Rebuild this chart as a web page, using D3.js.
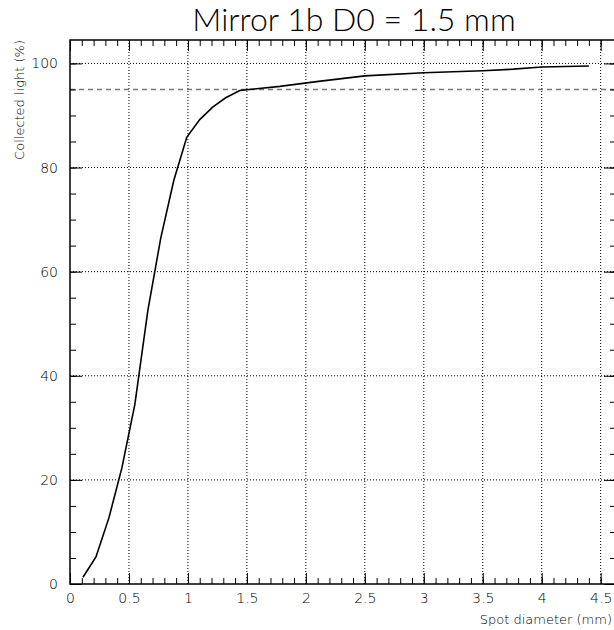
<!DOCTYPE html>
<html>
<head>
<meta charset="utf-8">
<script src="https://cdn.jsdelivr.net/npm/d3@7"></script>
<style>
  body { margin: 0; background: #fff; }
  text { font-family: "DejaVu Sans", sans-serif; fill: #000; }
</style>
</head>
<body>
<svg class="plot" width="614" height="630"></svg>
<script>
// spot diameter (mm) and collected light (%)
var spotDiameter = [0.11, 0.22, 0.33, 0.44, 0.55, 0.66, 0.77, 0.88, 0.99, 1.10, 1.21, 1.32, 1.44,
                    1.78, 2.09, 2.50, 3.00, 3.50, 3.76, 4.00, 4.40];
var collected = [1.3, 5.2, 12.7, 22.3, 34.5, 52.5, 66.5, 77.5, 85.8, 89.2, 91.6, 93.4, 94.8,
                 95.6, 96.5, 97.6, 98.2, 98.6, 98.9, 99.3, 99.5];
var xTicks = [0, 0.5, 1, 1.5, 2, 2.5, 3, 3.5, 4, 4.5];
var yTicks = [0, 20, 40, 60, 80, 100];
var refLevel = 95;

var svg = d3.select(".plot");
var frame = {left: 70, right: 616, top: 40, bottom: 584};

var x = d3.scaleLinear().domain([0, 4.63]).range([frame.left, frame.right]),
    y = d3.scaleLinear().domain([0, 104.5]).range([frame.bottom, frame.top]);

var data = spotDiameter.map(function(d, i) { return {x: d, y: collected[i]}; });

// grid
svg.append("g").selectAll("line")
    .data(xTicks.filter(function(d) { return d > 0; }))
    .enter().append("line")
    .attr("x1", function(d) { return x(d); })
    .attr("x2", function(d) { return x(d); })
    .attr("y1", frame.top).attr("y2", frame.bottom)
    .attr("stroke", "#000").attr("stroke-width", 1)
    .style("stroke-dasharray", "1,2");

svg.append("g").selectAll("line")
    .data(yTicks.filter(function(d) { return d > 0; }))
    .enter().append("line")
    .attr("x1", frame.left).attr("x2", frame.right)
    .attr("y1", function(d) { return y(d); })
    .attr("y2", function(d) { return y(d); })
    .attr("stroke", "#000").attr("stroke-width", 1)
    .style("stroke-dasharray", "1,2");

// 95% reference
svg.append("line")
    .attr("x1", frame.left).attr("x2", frame.right)
    .attr("y1", y(refLevel)).attr("y2", y(refLevel))
    .attr("stroke", "#777").attr("stroke-width", 1.6)
    .style("stroke-dasharray", "5,4");

// axes, ticks pointing inward
var minorX = d3.range(0, 46).map(function(i) { return i / 10; });
var minorY = d3.range(0, 21).map(function(i) { return i * 5; });

function styleAxis(g) {
  g.select(".domain").remove();
  g.selectAll("line").attr("stroke", "#000");
}

svg.append("g")
    .attr("transform", "translate(0," + frame.bottom + ")")
    .call(d3.axisBottom(x).tickValues(minorX).tickSize(-6).tickFormat(""))
    .call(styleAxis);
svg.append("g")
    .attr("transform", "translate(0," + frame.bottom + ")")
    .call(d3.axisBottom(x).tickValues(xTicks).tickSize(-11).tickPadding(9)
          .tickFormat(function(d) { return d; }))
    .call(styleAxis)
    .selectAll("text").style("font-size", "14px").style("font-weight", 300);

svg.append("g")
    .attr("transform", "translate(0," + frame.top + ")")
    .call(d3.axisTop(x).tickValues(minorX).tickSize(-6).tickFormat(""))
    .call(styleAxis);
svg.append("g")
    .attr("transform", "translate(0," + frame.top + ")")
    .call(d3.axisTop(x).tickValues(xTicks).tickSize(-11).tickFormat(""))
    .call(styleAxis);

svg.append("g")
    .attr("transform", "translate(" + frame.left + ",0)")
    .call(d3.axisLeft(y).tickValues(minorY).tickSize(-6).tickFormat(""))
    .call(styleAxis);
svg.append("g")
    .attr("transform", "translate(" + frame.left + ",0)")
    .call(d3.axisLeft(y).tickValues(yTicks).tickSize(-12).tickPadding(12))
    .call(styleAxis)
    .selectAll("text").style("font-size", "14px").style("font-weight", 300);

svg.append("g")
    .attr("transform", "translate(" + frame.right + ",0)")
    .call(d3.axisRight(y).tickValues(minorY).tickSize(-6).tickFormat(""))
    .call(styleAxis);
svg.append("g")
    .attr("transform", "translate(" + frame.right + ",0)")
    .call(d3.axisRight(y).tickValues(yTicks).tickSize(-12).tickFormat(""))
    .call(styleAxis);

// frame
svg.append("rect")
    .attr("x", frame.left).attr("y", frame.top)
    .attr("width", frame.right - frame.left).attr("height", frame.bottom - frame.top)
    .attr("fill", "none").attr("stroke", "#000").attr("stroke-width", 1.5);

// curve
svg.append("path")
    .datum(data)
    .attr("fill", "none")
    .attr("stroke", "#000")
    .attr("stroke-width", 1.6)
    .attr("d", d3.line().x(function(d) { return x(d.x); }).y(function(d) { return y(d.y); }));

// titles
svg.append("text")
    .attr("x", 354).attr("y", 31)
    .style("font-family", "Lato, 'DejaVu Sans', sans-serif")
    .style("font-size", "32px").style("font-weight", 300)
    .style("text-anchor", "middle")
    .text("Mirror 1b D0 = 1.5 mm");

svg.append("text")
    .attr("x", 612).attr("y", 624)
    .style("font-size", "13px").style("font-weight", 300)
    .style("text-anchor", "end")
    .text("Spot diameter (mm)");

svg.append("text")
    .attr("transform", "translate(24,40)rotate(-90)")
    .style("font-size", "13px").style("font-weight", 300)
    .style("text-anchor", "end")
    .text("Collected light (%)");
</script>
</body>
</html>
